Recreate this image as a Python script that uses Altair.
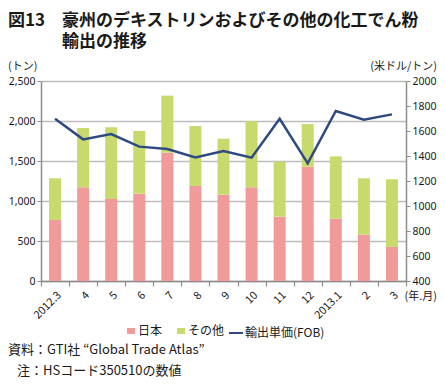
import altair as alt
import pandas as pd

months = ["2012.3", "4", "5", "6", "7", "8", "9", "10", "11", "12", "2013.1", "2", "3"]
japan = [762, 1171, 1025, 1092, 1604, 1187, 1079, 1171, 804, 1429, 779, 579, 425]
other = [522, 741, 896, 783, 713, 750, 700, 825, 688, 533, 779, 705, 846]
price = [1698, 1533, 1576, 1475, 1456, 1389, 1440, 1387, 1698, 1341, 1760, 1691, 1733]
series = ["日本", "その他"]
line_name = "輸出単価(FOB)"
left_ticks = [0, 500, 1000, 1500, 2000, 2500]
right_ticks = [400, 600, 800, 1000, 1200, 1400, 1600, 1800, 2000]

rows = []
for i, m in enumerate(months):
    rows.append({"月": m, "区分": series[0], "トン": japan[i], "順": 0})
    rows.append({"月": m, "区分": series[1], "トン": other[i], "順": 1})
bars_df = pd.DataFrame(rows)
line_df = pd.DataFrame({"月": months, "単価": price, "系列": line_name})

FONT = "Noto Sans CJK JP"
NUMFONT = "Noto Sans"
GRAY = "#8c8c8c"
TXT = "#1a1a1a"
L = 33  # left padding

x_enc = alt.X(
    "月:N", sort=months,
    scale=alt.Scale(paddingInner=0, paddingOuter=0),
    axis=alt.Axis(title=None, labelAngle=-45, labelFontSize=11, labelFont=FONT,
                  labelColor=TXT, tickBand="extent", tickSize=5, tickColor=GRAY,
                  tickWidth=1.2, domainColor=GRAY, domainWidth=1.5, labelPadding=3),
)

bars = alt.Chart(bars_df).mark_bar(size=12).encode(
    x=x_enc,
    y=alt.Y("トン:Q", stack="zero",
            scale=alt.Scale(domain=[0, 2500], nice=False),
            axis=alt.Axis(title=None, values=left_ticks, format=",d", grid=True,
                          gridColor="#bdbdbd", gridWidth=1.5, labelFont=NUMFONT,
                          labelFontSize=10.5, labelColor=TXT, tickSize=4,
                          tickColor=GRAY, domainColor=GRAY, domainWidth=1.5,
                          labelPadding=2)),
    color=alt.Color("区分:N", scale=alt.Scale(domain=series, range=["#f09a9a", "#c8da6e"]),
                    legend=alt.Legend(orient="none", legendX=125 - 8 - L, legendY=244,
                                      direction="horizontal", title=None,
                                      symbolType="M-1,-0.75L1,-0.75L1,0.75L-1,0.75Z",
                                      symbolSize=64, symbolStrokeWidth=0,
                                      symbolOpacity=1, labelFont=FONT,
                                      labelFontSize=12, labelColor=TXT,
                                      columnPadding=12, labelOffset=1)),
    order=alt.Order("順:Q"),
)

line = alt.Chart(line_df).mark_line(strokeWidth=2.5).encode(
    x=x_enc,
    y=alt.Y("単価:Q", scale=alt.Scale(domain=[400, 2000], nice=False),
            axis=alt.Axis(title=None, orient="right", values=right_ticks, format="d",
                          grid=False, labelFont=NUMFONT, labelFontSize=10.5,
                          labelColor=TXT, tickSize=4, tickColor=GRAY,
                          domainColor=GRAY, domainWidth=1.5, labelPadding=2)),
    stroke=alt.Stroke("系列:N", scale=alt.Scale(domain=[line_name], range=["#2f4a80"]),
                      legend=alt.Legend(orient="none", legendX=228 - 8 - L, legendY=244,
                                        title=None, symbolType="stroke",
                                        symbolSize=196, symbolStrokeWidth=2,
                                        labelFont=FONT, labelFontSize=12,
                                        labelColor=TXT, labelOffset=1)),
)


def label(txt, px, y, size, align="left", weight="normal", baseline="alphabetic"):
    # px: page x position; converted to plot-relative coordinate
    return alt.Chart(alt.Data(values=[{"t": txt}])).mark_text(
        align=align, baseline=baseline, fontSize=size, font=FONT,
        fontWeight=weight, color=TXT,
    ).encode(x=alt.value(px - 8 - L), y=alt.value(y), text="t:N")


texts = [
    label("図13", 8, -55, 17, weight="bold"),
    label("豪州のデキストリンおよびその他の化工でん粉", 62, -55, 17, weight="bold"),
    label("輸出の推移", 62, -34, 17, weight="bold"),
    label("(トン)", 8, -14, 11, baseline="middle"),
    label("(米ドル/トン)", 437, -14, 11, align="right", baseline="middle"),
    label("(年.月)", 437, 216, 11, align="right", baseline="middle"),
    label("資料：GTI社 “Global Trade Atlas”", 8, 269, 13, baseline="middle"),
    label("注：HSコード350510の数値", 17, 290, 13, baseline="middle"),
]

chart = alt.layer(bars, line, *texts).resolve_scale(
    y="independent"
).properties(
    width=365, height=200,
    autosize=alt.AutoSizeParams(type="none"),
    padding={"left": L, "top": 73, "right": 31, "bottom": 99},
).configure_view(stroke=None).configure(background="white")

chart.save("out.html", embed_options={"renderer": "svg", "actions": False})
